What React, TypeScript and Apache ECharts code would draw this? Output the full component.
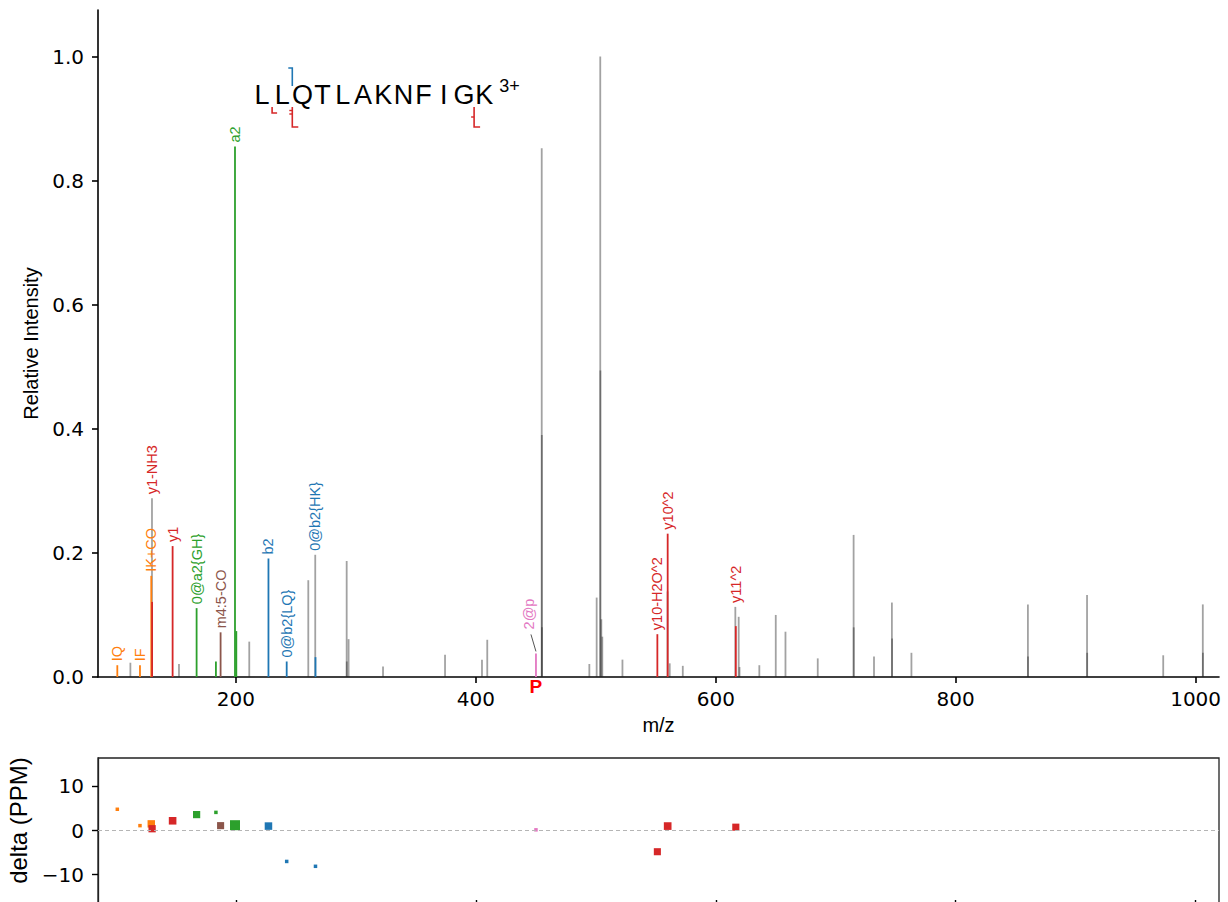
import React, { useEffect, useRef } from "react";
import * as echarts from "echarts";

// ---------- data ----------
const peptide = ["L", "L", "Q", "T", "L", "A", "K", "N", "F", "I", "G", "K"];
const precursorCharge = "3+";
const precursorMz = 450.1;

// fragment markers on the sequence (cleavage after residue n)
const bMarks = [{ after: 2 }];
const yMarks = [
  { after: 1, ticks: 0, long: false },
  { after: 2, ticks: 2, long: true },
  { after: 11, ticks: 1, long: true },
];

// unannotated peaks
const unannotMz = [112.0, 130.0, 152.5, 211.1, 260.3, 266.1, 292.3, 292.4, 293.9, 322.6, 374.3, 405.1, 409.5,
  454.9, 455.0, 455.1, 494.6, 500.7, 503.7, 503.8, 504.6, 505.4, 522.2, 559.8, 561.6, 572.5, 616.3, 619.1, 619.8,
  636.3, 650.0, 658.1, 685.0, 714.9, 715.0, 731.9, 746.8, 747.0, 763.1, 860.2, 860.3, 909.5, 909.6, 973.0, 1006.0, 1006.1];
const unannotInt = [0.023, 0.288, 0.021, 0.057, 0.156, 0.197, 0.187, 0.025, 0.061, 0.017, 0.036, 0.028, 0.060,
  0.852, 0.390, 0.080, 0.021, 0.128, 1.000, 0.494, 0.093, 0.065, 0.028, 0.138, 0.022, 0.018, 0.113, 0.097, 0.016,
  0.019, 0.100, 0.073, 0.030, 0.229, 0.080, 0.033, 0.120, 0.062, 0.039, 0.117, 0.033, 0.132, 0.039, 0.035, 0.117, 0.039];

// annotated peaks
const annotMz = [101.1, 120.0, 129.4, 130.1, 147.2, 167.2, 183.3, 187.2, 199.2, 200.3, 227.1, 242.3, 266.3, 450.1, 551.3, 559.9, 616.7];
const annotInt = [0.019, 0.019, 0.163, 0.121, 0.211, 0.111, 0.025, 0.072, 0.855, 0.074, 0.191, 0.025, 0.032, 0.038, 0.069, 0.231, 0.082];
const annotType = ["I", "I", "I", "y", "y", "a", "a", "m", "a", "a", "b", "b", "b", "p", "y", "y", "y"];
const annotLabel = ["IQ", "IF", "IK+CO", "y1-NH3", "y1", "0@a2{GH}", "", "m4:5-CO", "a2", "", "b2", "0@b2{LQ}", "0@b2{HK}", "2@p", "y10-H2O^2", "y10^2", "y11^2"];
const annotPpm: (number | null)[] = [4.8, 1.1, 1.5, 0.4, 2.2, 3.6, 4.1, 1.1, 1.2, null, 1.0, -7.0, -8.1, 0.15, -4.8, 1.0, 0.75];

const xTicks = [200, 400, 600, 800, 1000];
const yTicks = [0, 0.2, 0.4, 0.6, 0.8, 1.0];
const ppmTicks = [-10, 0, 10];

// ---------- styles ----------
const ionColors: Record<string, string> = {
  a: "#2ca02c",
  b: "#1f77b4",
  y: "#d62728",
  I: "#ff7f0e",
  m: "#8c564b",
  p: "#e377c2",
};
const GRAY = "rgba(33,33,33,0.42)";
const TICK_FONT = "DejaVu Sans";
const LABEL_FONT = "Liberation Sans";
const PEAK_WIDTH = 1.8;

const allPeaks: [number, number][] = [
  ...unannotMz.map((m, i) => [m, unannotInt[i]] as [number, number]),
  ...annotMz.map((m, i) => [m, annotInt[i]] as [number, number]),
];

function anchorIntensity(i: number): number {
  let best = annotInt[i];
  for (const [m, v] of allPeaks) {
    if (Math.abs(m - annotMz[i]) <= 0.5 && v > best) best = v;
  }
  return best;
}

function markerSize(intensity: number): number {
  return intensity < 0.05 ? 3.5 : 7 + (3 * (intensity - 0.05)) / 0.8;
}

function App() {
  const ref = useRef<HTMLDivElement>(null);

  useEffect(() => {
    if (!ref.current) return;
    const chart = echarts.init(ref.current, undefined, { renderer: "svg" });

    const renderGray = (params: any, api: any) => {
      const b = api.coord([api.value(0), 0]);
      const t = api.coord([api.value(0), api.value(1)]);
      return {
        type: "line",
        shape: { x1: b[0], y1: b[1], x2: t[0], y2: t[1] },
        style: { stroke: GRAY, lineWidth: PEAK_WIDTH },
        silent: true,
      };
    };

    const renderAnnot = (params: any, api: any) => {
      const i = params.dataIndex;
      const mz = annotMz[i];
      const color = ionColors[annotType[i]];
      const b = api.coord([mz, 0]);
      const t = api.coord([mz, annotInt[i]]);
      const children: any[] = [
        {
          type: "line",
          shape: { x1: b[0], y1: b[1], x2: t[0], y2: t[1] },
          style: { stroke: color, lineWidth: PEAK_WIDTH },
        },
      ];
      const label = annotLabel[i];
      if (label) {
        const anchor = anchorIntensity(i);
        const ay = api.coord([mz, anchor])[1];
        const blocked = allPeaks.some(
          ([m, v]) => Math.abs(api.coord([m, 0])[0] - t[0]) < 8 && v > anchor + 0.3
        );
        let lx = t[0];
        let ly = ay - 4;
        if (blocked) {
          lx = t[0] - 7;
          ly = ay - 24;
          children.push({
            type: "line",
            shape: { x1: lx + 2, y1: ly + 5, x2: t[0], y2: ay - 2 },
            style: { stroke: "#555", lineWidth: 1 },
          });
        }
        children.push({
          type: "text",
          x: lx,
          y: ly,
          rotation: Math.PI / 2,
          style: {
            text: label,
            fill: color,
            fontSize: 14.5,
            fontFamily: LABEL_FONT,
            align: "left",
            verticalAlign: "middle",
          },
        });
      }
      return { type: "group", children, silent: true };
    };

    const renderPrecursor = (params: any, api: any) => {
      const b = api.coord([api.value(0), 0]);
      return {
        type: "text",
        x: b[0],
        y: b[1],
        silent: true,
        style: {
          text: "P",
          fill: "#ff0000",
          fontSize: 19,
          fontWeight: "bold",
          fontFamily: LABEL_FONT,
          align: "center",
          verticalAlign: "top",
        },
      };
    };

    // peptide sequence graphic
    const x0 = 262;
    const step = 20.2;
    const seqY = 95;
    const graphics: any[] = peptide.map((aa, k) => ({
      type: "text",
      x: x0 + step * k,
      y: seqY,
      silent: true,
      style: {
        text: aa,
        fill: "#000",
        fontSize: 27,
        fontFamily: LABEL_FONT,
        align: "center",
        verticalAlign: "middle",
      },
    }));
    graphics.push({
      type: "text",
      x: x0 + step * (peptide.length - 1) + 15,
      y: 86,
      silent: true,
      style: {
        text: precursorCharge,
        fill: "#000",
        fontSize: 18,
        fontFamily: LABEL_FONT,
        align: "left",
        verticalAlign: "middle",
      },
    });
    for (const bm of bMarks) {
      const x = x0 + step * (bm.after - 0.5);
      graphics.push({
        type: "polyline",
        silent: true,
        shape: { points: [[x - 4, 68], [x, 68], [x, 86]] },
        style: { stroke: ionColors.b, lineWidth: 1.6, fill: null },
      });
    }
    for (const ym of yMarks) {
      const x = x0 + step * (ym.after - 0.5);
      const yEnd = ym.long ? 127 : 113;
      graphics.push({
        type: "polyline",
        silent: true,
        shape: { points: [[x, 107], [x, yEnd], [x + (ym.long ? 6 : 5), yEnd]] },
        style: { stroke: ionColors.y, lineWidth: 1.6, fill: null },
      });
      for (let k = 0; k < ym.ticks; k++) {
        const ty = ym.ticks === 1 ? 117 : 110.5 + k * 3.5;
        graphics.push({
          type: "line",
          silent: true,
          shape: { x1: x - 3, y1: ty, x2: x, y2: ty },
          style: { stroke: ionColors.y, lineWidth: 1.4 },
        });
      }
    }

    const ppmData = annotMz
      .map((m, i) => [m, annotPpm[i], annotInt[i], annotType[i]])
      .filter((d) => d[1] !== null);

    const axisLineStyle = { color: "#000", width: 1.6 };

    chart.setOption({
      animation: false,
      backgroundColor: "#fff",
      graphic: graphics,
      grid: [
        { left: 98, top: 10, width: 1121, height: 667, outerBoundsMode: "none" },
        {
          left: 98,
          top: 758,
          width: 1121,
          height: 145,
          show: true,
          borderColor: "#222",
          borderWidth: 1.3,
          outerBoundsMode: "none",
        },
      ],
      xAxis: [
        {
          type: "value",
          gridIndex: 0,
          min: 85,
          max: 1019.5,
          name: "m/z",
          nameLocation: "middle",
          nameGap: 38,
          nameTextStyle: { fontSize: 20, fontFamily: LABEL_FONT, color: "#000" },
          axisLine: { show: true, onZero: false, lineStyle: axisLineStyle },
          axisTick: { show: true, length: 6, lineStyle: axisLineStyle, customValues: xTicks },
          axisLabel: {
            customValues: xTicks,
            formatter: (v: number) => String(v),
            fontSize: 20,
            fontFamily: TICK_FONT,
            color: "#000",
            margin: 12,
          },
          splitLine: { show: false },
        },
        {
          type: "value",
          gridIndex: 1,
          min: 85,
          max: 1019.5,
          axisLine: { show: false, onZero: false },
          axisTick: {
            show: true,
            inside: true,
            length: 3,
            lineStyle: { color: "#000", width: 1.4 },
            customValues: xTicks,
          },
          axisLabel: { show: false },
          splitLine: { show: false },
        },
      ],
      yAxis: [
        {
          type: "value",
          gridIndex: 0,
          min: 0,
          max: 1.075,
          name: "Relative Intensity",
          nameLocation: "middle",
          nameGap: 56,
          nameTextStyle: { fontSize: 20, fontFamily: LABEL_FONT, color: "#000" },
          axisLine: { show: true, lineStyle: axisLineStyle },
          axisTick: { show: true, length: 6, lineStyle: axisLineStyle, customValues: yTicks },
          axisLabel: {
            customValues: yTicks,
            formatter: (v: number) => v.toFixed(1),
            fontSize: 20,
            fontFamily: TICK_FONT,
            color: "#000",
            margin: 14,
          },
          splitLine: { show: false },
        },
        {
          type: "value",
          gridIndex: 1,
          min: -16.4,
          max: 16.4,
          name: "delta (PPM)",
          nameLocation: "middle",
          nameGap: 62,
          nameTextStyle: {
            fontSize: 24,
            fontFamily: LABEL_FONT,
            color: "#000",
            padding: [0, 0, 0, 20],
          },
          axisLine: { show: true, lineStyle: { color: "#222", width: 1.3 } },
          axisTick: {
            show: true,
            length: 6,
            lineStyle: { color: "#000", width: 1.4 },
            customValues: ppmTicks,
          },
          axisLabel: {
            customValues: ppmTicks,
            formatter: (v: number) => (v < 0 ? "\u2212" + Math.abs(v) : String(v)),
            fontSize: 20,
            fontFamily: TICK_FONT,
            color: "#000",
            margin: 14,
          },
          splitLine: { show: false },
        },
      ],
      series: [
        {
          type: "custom",
          name: "unannotated",
          xAxisIndex: 0,
          yAxisIndex: 0,
          data: unannotMz.map((m, i) => [m, unannotInt[i]]),
          renderItem: renderGray,
          clip: false,
          silent: true,
        },
        {
          type: "custom",
          name: "annotated",
          xAxisIndex: 0,
          yAxisIndex: 0,
          data: annotMz.map((m, i) => [m, annotInt[i]]),
          renderItem: renderAnnot,
          clip: false,
          silent: true,
        },
        {
          type: "custom",
          name: "precursor",
          xAxisIndex: 0,
          yAxisIndex: 0,
          data: [[precursorMz, 0]],
          renderItem: renderPrecursor,
          clip: false,
          silent: true,
        },
        {
          type: "scatter",
          name: "mass error",
          xAxisIndex: 1,
          yAxisIndex: 1,
          symbol: "rect",
          data: ppmData,
          symbolSize: (val: any) => markerSize(val[2]),
          itemStyle: {
            color: (p: any) => ionColors[p.data[3]],
            opacity: 1,
          },
          silent: true,
          markLine: {
            silent: true,
            symbol: "none",
            label: { show: false },
            lineStyle: { type: [4, 3], color: "#b5b5b5", width: 1 },
            data: [{ yAxis: 0 }],
          },
        },
      ],
    });

    return () => chart.dispose();
  }, []);

  return (
    <div
      ref={ref}
      style={{ position: "absolute", left: 0, top: 0, width: 1228, height: 902, background: "#fff" }}
    />
  );
}

export default App;
